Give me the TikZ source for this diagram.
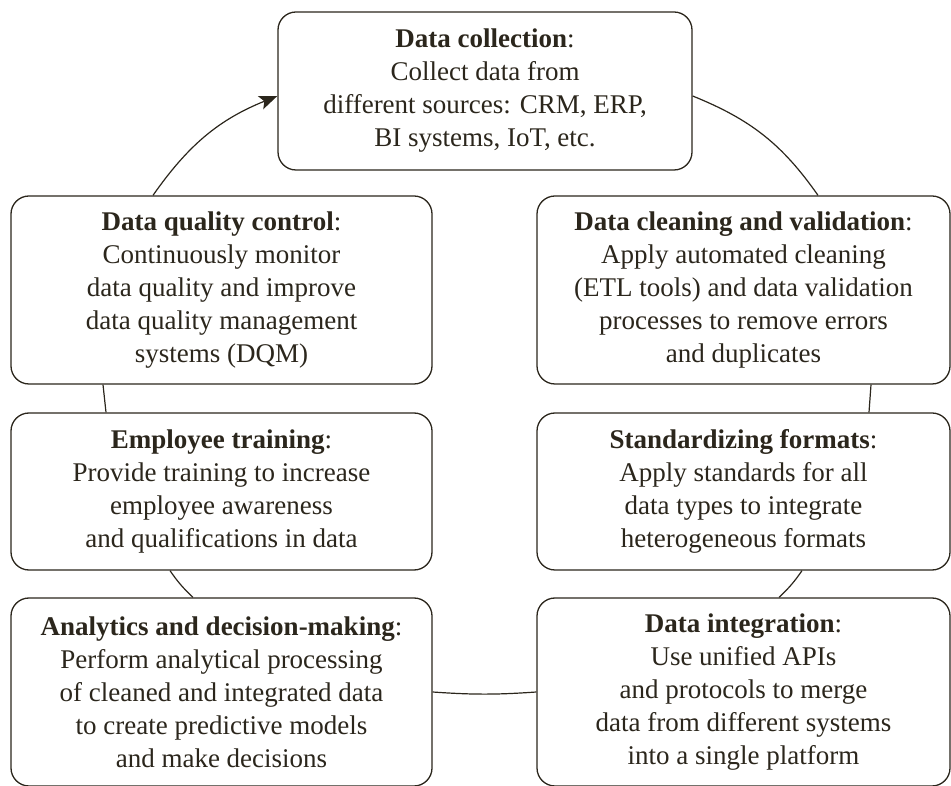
\documentclass[tikz,border=0pt]{standalone}
\usepackage{fontspec}
\setmainfont{Liberation Serif}
\usetikzlibrary{arrows.meta}
\definecolor{ink}{HTML}{2B261C}
\tikzset{
  stagebox/.style={draw=ink, line width=1.3pt, rounded corners=18pt, fill=white,
    text=ink, align=center, inner sep=0pt,
    font=\fontsize{27}{33}\selectfont},
  ring/.style={draw=ink, line width=1.2pt},
}
\begin{document}
\begin{tikzpicture}[x=1pt,y=1pt]
\useasboundingbox (0,0) rectangle (951,785);
\node[stagebox, minimum width=414pt, minimum height=158pt] (DC) at (485,694)
  {\textbf{Data collection}:\\Collect data from\\different sources: CRM, ERP,\\BI systems, IoT, etc.};
\node[stagebox, minimum width=421pt, minimum height=188pt] (DQC) at (221.5,495)
  {\textbf{Data quality control}:\\Continuously monitor\\data quality and improve\\data quality management\\systems (DQM)};
\node[stagebox, minimum width=413pt, minimum height=188pt] (Clean) at (743.5,495)
  {\textbf{Data cleaning and validation}:\\Apply automated cleaning\\(ETL tools) and data validation\\processes to remove errors\\and duplicates};
\node[stagebox, minimum width=421pt, minimum height=157pt] (Emp) at (221.5,293.5)
  {\textbf{Employee training}:\\Provide training to increase\\employee awareness\\and qualifications in data};
\node[stagebox, minimum width=413pt, minimum height=157pt] (Std) at (743.5,293.5)
  {\textbf{Standardizing formats}:\\Apply standards for all\\data types to integrate\\heterogeneous formats};
\node[stagebox, minimum width=421pt, minimum height=188pt] (Ana) at (221.5,93)
  {\textbf{Analytics and decision-making}:\\Perform analytical processing\\of cleaned and integrated data\\to create predictive models\\and make decisions};
\node[stagebox, minimum width=413pt, minimum height=188pt] (Int) at (743.5,93)
  {\textbf{Data integration}:\\Use unified APIs\\and protocols to merge\\data from different systems\\into a single platform};
% ring connectors
\draw[ring] ([yshift=-5pt]DC.east) to[out=-22, in=125] ([xshift=74.5pt]Clean.north);
\draw[ring] ([xshift=127.5pt]Clean.south) -- ([xshift=125.5pt]Std.north);
\draw[ring] ([xshift=58.5pt]Std.south) to[bend left=6] ([xshift=35.5pt]Int.north);
\draw[ring] (Int.west) to[bend left=4] (Ana.east);
\draw[ring] ([xshift=-28.5pt]Ana.north) to[bend left=6] ([xshift=-51.5pt]Emp.south);
\draw[ring] ([xshift=-115.5pt]Emp.north) -- ([xshift=-118.5pt]DQC.south);
\draw[ring, -{Stealth[length=18pt, width=14pt, inset=4pt]}]
  ([xshift=-68.5pt]DQC.north) to[out=55, in=-158] ([yshift=-5pt]DC.west);
\end{tikzpicture}
\end{document}
